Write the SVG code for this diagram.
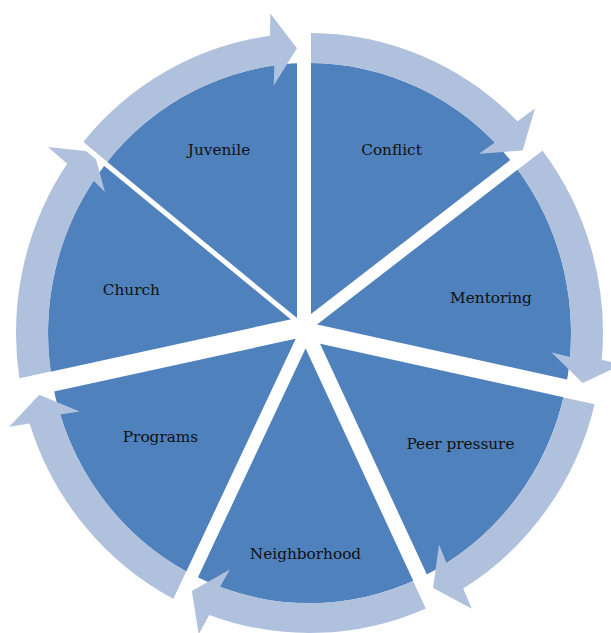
<svg xmlns="http://www.w3.org/2000/svg" width="611" height="633" viewBox="0 0 611 633">
  <style>
    .sector { fill: #4F81BD; }
    .arrow { fill: #B0C1DE; }
    .gap { stroke: #FFFFFF; fill: none; stroke-linecap: butt; }
    .label { font-family: "DejaVu Serif", "Liberation Serif", serif; font-size: 15.3px; fill: #111111; text-anchor: middle; }
  </style>
  <rect width="611" height="633" fill="#FFFFFF"/>

  <!-- pie segments, hub at (304,327), rim on an ellipse centred (309.5,333) -->
  <g id="node-conflict">
    <path class="sector" d="M304,327 L304,63.1 A261.5,270 0 0 1 514,164.7 Z"/>
    <text class="label" x="391.5" y="155">Conflict</text>
  </g>
  <g id="node-mentoring">
    <path class="sector" d="M304,327 L514,164.7 A261.5,270 0 0 1 565.5,388.4 Z"/>
    <text class="label" x="491" y="303">Mentoring</text>
  </g>
  <g id="node-peer-pressure">
    <path class="sector" d="M304,327 L565.5,388.4 A261.5,270 0 0 1 420.1,577.8 Z"/>
    <text class="label" x="460.5" y="449">Peer pressure</text>
  </g>
  <g id="node-neighborhood">
    <path class="sector" d="M304,327 L420.1,577.8 A261.5,270 0 0 1 192.1,574.6 Z"/>
    <text class="label" x="305.5" y="559">Neighborhood</text>
  </g>
  <g id="node-programs">
    <path class="sector" d="M304,327 L192.1,574.6 A261.5,270 0 0 1 52.2,381.6 Z"/>
    <text class="label" x="160.5" y="442">Programs</text>
  </g>
  <g id="node-church">
    <path class="sector" d="M304,327 L52.2,381.6 A261.5,270 0 0 1 105.6,163.9 Z"/>
    <text class="label" x="131.3" y="295">Church</text>
  </g>
  <g id="node-juvenile">
    <path class="sector" d="M304,327 L105.6,163.9 A261.5,270 0 0 1 304,63.1 Z"/>
    <text class="label" x="219" y="155">Juvenile</text>
  </g>

  <!-- clockwise ring arrows, one per segment -->
  <g id="connectors">
    <path class="arrow" d="M311,33 A293.5,300 0 0 1 517.5,121.3 L534.9,108.4 L522.7,150.5 L479,153.8 L494.8,142.5 A261.5,270 0 0 0 311,63 Z"/>
    <path class="arrow" d="M542.4,150.4 A293.5,300 0 0 1 601.8,359.7 L622.4,364.6 L582.6,383 L551.4,352.2 L570,357 A261.5,270 0 0 0 517.5,169.4 Z"/>
    <path class="arrow" d="M594.7,404 A293.5,300 0 0 1 463.2,588.6 L471.8,608.8 L433.1,588.1 L439,544.6 L446.5,563 A261.5,270 0 0 0 563.5,397.2 Z"/>
    <path class="arrow" d="M425.9,608.4 A293.5,300 0 0 1 209.2,614.9 L198.7,634.3 L191.8,591.1 L229.9,569.5 L220.1,586.7 A261.5,270 0 0 0 413.3,581 Z"/>
    <path class="arrow" d="M173.5,599 A293.5,300 0 0 1 29.6,423.5 L9.3,426.7 L39.2,394.7 L79.7,411.5 L60.2,414.4 A261.5,270 0 0 0 186.4,571.4 Z"/>
    <path class="arrow" d="M19.4,378.5 A293.5,300 0 0 1 67.2,163.7 L48,147 L94,152 L105,192 L93.6,180.7 A261.5,270 0 0 0 50.8,371.6 Z"/>
    <path class="arrow" d="M83.3,141.9 A293.5,300 0 0 1 270,35.7 L270.3,13.5 L297,48.3 L273.7,85.4 L274.3,65.4 A261.5,270 0 0 0 107.1,162 Z"/>
  </g>

  <!-- white separators between segments -->
  <g id="separators">
    <line class="gap" x1="304" y1="332" x2="304" y2="0" stroke-width="14"/>
    <line class="gap" x1="304" y1="327" x2="636.4" y2="70.2" stroke-width="12"/>
    <line class="gap" x1="304" y1="330.9" x2="640" y2="404.8" stroke-width="18"/>
    <line class="gap" x1="304" y1="327" x2="458.2" y2="660" stroke-width="15"/>
    <line class="gap" x1="306.1" y1="332" x2="151.9" y2="660" stroke-width="13"/>
    <line class="gap" x1="304" y1="326.7" x2="-30" y2="399.5" stroke-width="20"/>
    <line class="gap" x1="304" y1="327" x2="-4.8" y2="73" stroke-width="5"/>
  </g>
</svg>
